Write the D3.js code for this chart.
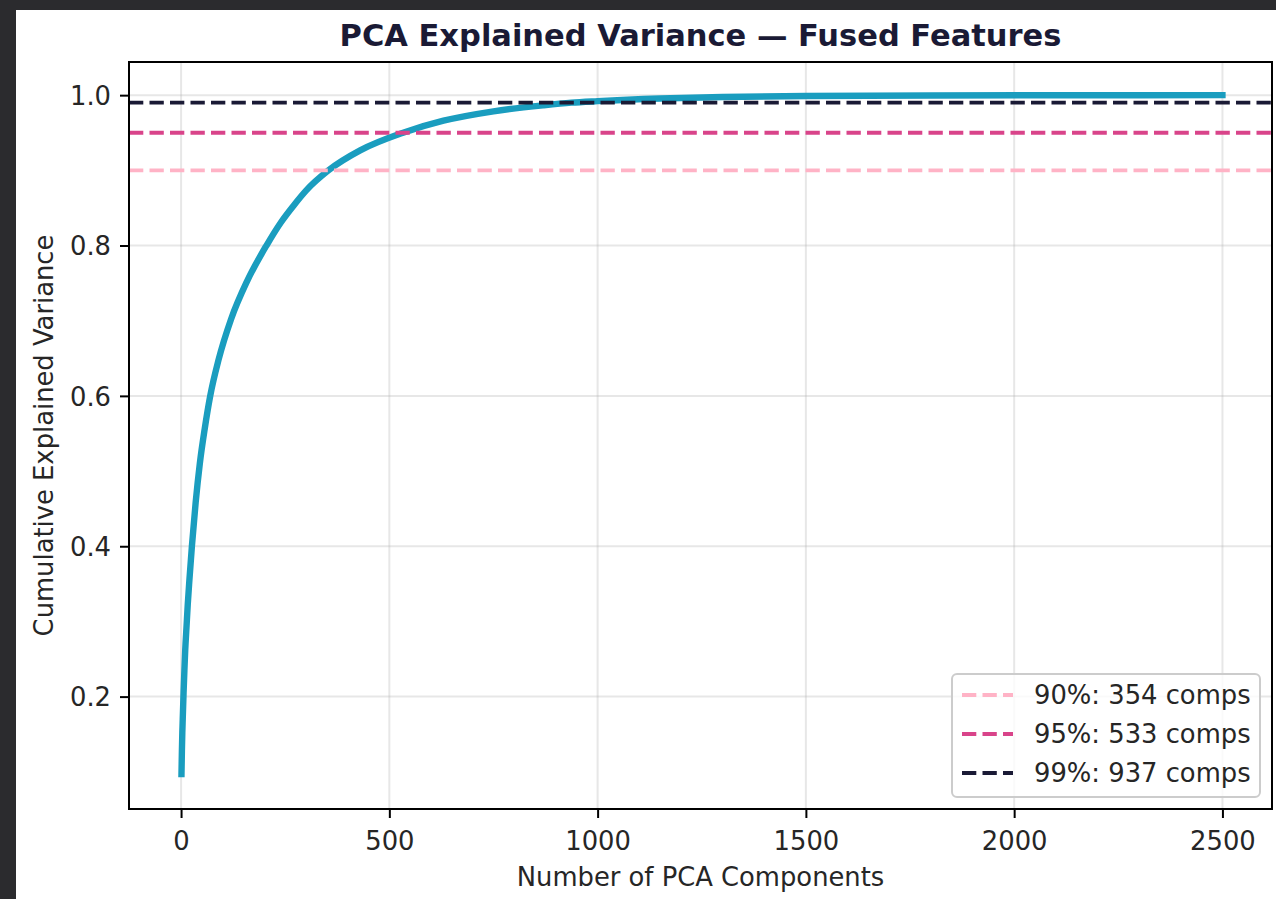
<!DOCTYPE html>
<html>
<head>
<meta charset="utf-8">
<script src="https://cdn.jsdelivr.net/npm/d3@7"></script>
<style>
  html, body { margin: 0; padding: 0; background: #2b2b2e; }
  svg { display: block; }
  text { font-family: "DejaVu Sans", sans-serif; }
</style>
</head>
<body>
<svg id="chart" width="1276" height="899"></svg>
<script>
// ---- data ----
const components = [1, 2, 3, 4, 6, 8, 10, 13, 16, 20, 26, 35, 45, 57, 70, 90, 120, 158, 205, 240, 270, 300, 354, 430, 533, 630, 750, 870, 937, 1000, 1150, 1300, 1500, 1800, 2100, 2500];
const cumVariance = [0.097, 0.128, 0.152, 0.17, 0.205, 0.235, 0.262, 0.292, 0.322, 0.355, 0.40, 0.458, 0.51, 0.557, 0.60, 0.648, 0.702, 0.752, 0.80, 0.831, 0.853, 0.873, 0.90, 0.9265, 0.95, 0.966, 0.9785, 0.9865, 0.99, 0.992, 0.9955, 0.9975, 0.9988, 0.9996, 0.9999, 1.0];

const thresholdValues = [0.90, 0.95, 0.99];
const thresholdLabels = ["90%: 354 comps", "95%: 533 comps", "99%: 937 comps"];
const thresholdColors = ["#ffb3c6", "#d9448a", "#1a1a35"];

const xTicks = [0, 500, 1000, 1500, 2000, 2500];
const yTicks = [0.2, 0.4, 0.6, 0.8, 1.0];
const xLimits = [-125, 2619];
const yLimits = [0.0505, 1.0441];

const titleText = "PCA Explained Variance \u2014 Fused Features";
const xLabelText = "Number of PCA Components";
const yLabelText = "Cumulative Explained Variance";

// ---- layout ----
const svg = d3.select("#chart");
const W = 1276, H = 899;
const plot = { left: 129, right: 1272, top: 62, bottom: 809 };
const FS = 25.8;

svg.append("rect").attr("x", 16).attr("y", 10).attr("width", W - 16).attr("height", H - 10).attr("fill", "#ffffff");

const x = d3.scaleLinear().domain(xLimits).range([plot.left, plot.right]);
const y = d3.scaleLinear().domain(yLimits).range([plot.bottom, plot.top]);

const clipId = "plotclip";
svg.append("defs").append("clipPath").attr("id", clipId)
  .append("rect").attr("x", plot.left).attr("y", plot.top)
  .attr("width", plot.right - plot.left).attr("height", plot.bottom - plot.top);

// grid
const grid = svg.append("g");
grid.selectAll(".gx").data(xTicks).join("line")
  .attr("x1", d => x(d)).attr("x2", d => x(d))
  .attr("y1", plot.top).attr("y2", plot.bottom)
  .attr("stroke", "#b0b0b0").attr("stroke-opacity", 0.3).attr("stroke-width", 2);
grid.selectAll(".gy").data(yTicks).join("line")
  .attr("x1", plot.left).attr("x2", plot.right)
  .attr("y1", d => y(d)).attr("y2", d => y(d))
  .attr("stroke", "#b0b0b0").attr("stroke-opacity", 0.3).attr("stroke-width", 2);

// curve
const pts = components.map((c, i) => [c, cumVariance[i]]);
const line = d3.line().x(d => x(d[0])).y(d => y(d[1])).curve(d3.curveMonotoneX);
svg.append("g").attr("clip-path", `url(#${clipId})`)
  .append("path").datum(pts).attr("d", line)
  .attr("fill", "none").attr("stroke", "#1a9dbf").attr("stroke-width", 6.4)
  .attr("stroke-linecap", "square").attr("stroke-linejoin", "round");

// threshold lines
svg.append("g").selectAll("line").data(thresholdValues).join("line")
  .attr("x1", plot.left).attr("x2", plot.right)
  .attr("y1", d => y(d)).attr("y2", d => y(d))
  .attr("stroke", (d, i) => thresholdColors[i]).attr("stroke-width", 3.9)
  .attr("stroke-dasharray", "14.3 6.2");

// axes
const xAxis = d3.axisBottom(x).tickValues(xTicks).tickSize(9).tickPadding(9).tickFormat(d3.format("d"));
const yAxis = d3.axisLeft(y).tickValues(yTicks).tickSize(9).tickPadding(9).tickFormat(d3.format(".1f"));

const gx = svg.append("g").attr("transform", `translate(0,${plot.bottom})`).call(xAxis);
const gy = svg.append("g").attr("transform", `translate(${plot.left},0)`).call(yAxis);
[gx, gy].forEach(g => {
  g.select(".domain").remove();
  g.selectAll(".tick line").attr("stroke", "#000").attr("stroke-width", 2);
  g.selectAll(".tick text").attr("fill", "#262626").style("font-size", FS + "px")
    .style("font-family", "'DejaVu Sans', sans-serif");
});
gx.selectAll(".tick text").attr("dy", null).attr("y", 41).attr("dominant-baseline", "alphabetic");
gy.selectAll(".tick text").attr("dy", "0.36em");

// spines
svg.append("rect").attr("x", plot.left).attr("y", plot.top)
  .attr("width", plot.right - plot.left).attr("height", plot.bottom - plot.top)
  .attr("fill", "none").attr("stroke", "#000").attr("stroke-width", 2);

// title & labels
svg.append("text").attr("x", (plot.left + plot.right) / 2).attr("y", 46)
  .attr("text-anchor", "middle").style("font-size", "30.5px").style("font-weight", "bold")
  .attr("fill", "#1a1a35").text(titleText);
svg.append("text").attr("x", (plot.left + plot.right) / 2).attr("y", 886)
  .attr("text-anchor", "middle").style("font-size", FS + "px").attr("fill", "#262626").text(xLabelText);
svg.append("text").attr("transform", `translate(53,${(plot.top + plot.bottom) / 2}) rotate(-90)`)
  .attr("text-anchor", "middle").style("font-size", FS + "px").attr("fill", "#262626").text(yLabelText);

// legend
const lg = svg.append("g");
lg.append("rect").attr("x", 952).attr("y", 674).attr("width", 308).attr("height", 123)
  .attr("rx", 5).attr("fill", "#ffffff").attr("fill-opacity", 0.8)
  .attr("stroke", "#cccccc").attr("stroke-width", 2);
const rowY = [695, 734, 773];
thresholdLabels.forEach((lab, i) => {
  lg.append("line").attr("x1", 962).attr("x2", 1013).attr("y1", rowY[i]).attr("y2", rowY[i])
    .attr("stroke", thresholdColors[i]).attr("stroke-width", 3.9).attr("stroke-dasharray", "14.3 6.2");
  lg.append("text").attr("x", 1034).attr("y", rowY[i]).attr("dy", "0.36em")
    .style("font-size", FS + "px").attr("fill", "#262626").text(lab);
});
</script>
</body>
</html>
